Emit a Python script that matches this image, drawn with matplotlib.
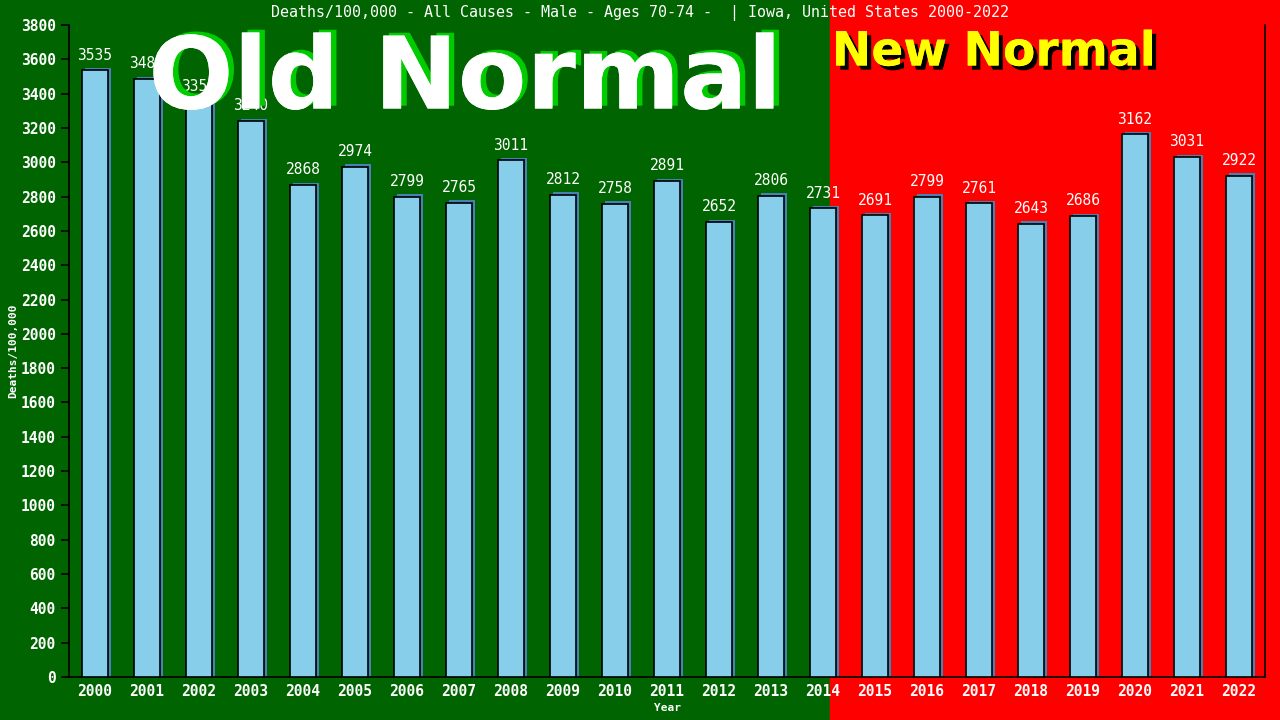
import numpy as np
import matplotlib.pyplot as plt
import matplotlib.patheffects as pe
from matplotlib.patches import Rectangle

years = [str(y) for y in range(2000, 2023)]
deaths = [3535, 3485, 3352, 3240, 2868, 2974, 2799, 2765, 3011, 2812, 2758,
          2891, 2652, 2806, 2731, 2691, 2799, 2761, 2643, 2686, 3162, 3031, 2922]
yticks = list(range(0, 3801, 200))

W, H = 1280, 720
fig = plt.figure(figsize=(12.8, 7.2), dpi=100, facecolor='#006400')
# red "new normal" zone
fig.patches.append(Rectangle((830 / W, 0), 1 - 830 / W, 1, transform=fig.transFigure,
                             color='#ff0000', zorder=-5))

ax = fig.add_axes([69 / W, 1 - 677 / H, (1265 - 69) / W, (677 - 25) / H])
ax.set_facecolor('none')

x = np.arange(len(years))
# blue shadow behind each bar
ax.bar(x + 0.05, np.array(deaths) + 14, width=0.5, color='#4682b4', zorder=2)
ax.bar(x, deaths, width=0.5, color='#87ceeb', edgecolor='black', linewidth=1.2, zorder=3)

mono = 'DejaVu Sans Mono'
for xi, v in zip(x, deaths):
    ax.text(xi, v + 45, str(v), ha='center', va='bottom', color='white',
            fontsize=10.5, family=mono, zorder=5)

ax.set_xlim(-0.5, len(years) - 0.5)
ax.set_ylim(0, 3800)
ax.set_xticks(x)
ax.set_xticklabels(years)
ax.set_yticks(yticks)
ax.tick_params(colors='black', labelcolor='white', labelsize=10.5, length=6, width=1.2)
ax.tick_params(axis='x', length=0, pad=5)
for lab in ax.get_xticklabels() + ax.get_yticklabels():
    lab.set_family(mono)
    lab.set_fontweight('bold')

ax.spines['top'].set_visible(False)
for s in ['left', 'bottom', 'right']:
    ax.spines[s].set_color('black')
    ax.spines[s].set_linewidth(1.2)

ax.set_ylabel('Deaths/100,000', color='white', fontsize=8, family=mono,
              fontweight='bold', labelpad=2)
ax.set_xlabel('Year', color='white', fontsize=8, family=mono, fontweight='bold',
              labelpad=3)

fig.text(0.5, 1 - 13 / H, 'Deaths/100,000 - All Causes - Male - Ages 70-74 -  | Iowa, United States 2000-2022',
         ha='center', va='center', color='white', fontsize=10.8, family=mono)

fig.text(465 / W, 1 - 81 / H, 'Old Normal', ha='center', va='center', color='white',
         fontsize=72, fontweight='bold', family='DejaVu Sans', zorder=6,
         path_effects=[pe.withSimplePatchShadow(offset=(4, 2), shadow_rgbFace='#00cc00', alpha=1),
                       pe.Normal()])
fig.text(994 / W, 1 - 53 / H, 'New Normal', ha='center', va='center', color='#ffff00',
         fontsize=34, fontweight='bold', family='DejaVu Sans', zorder=6,
         path_effects=[pe.withSimplePatchShadow(offset=(3, -3), shadow_rgbFace='black', alpha=1),
                       pe.Normal()])

fig.savefig('out.png', dpi=100, facecolor=fig.get_facecolor())
